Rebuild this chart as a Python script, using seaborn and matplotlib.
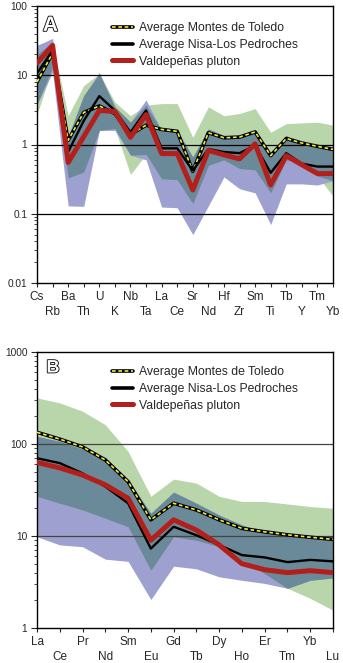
import numpy as np
import matplotlib
matplotlib.use("Agg")
import matplotlib.pyplot as plt
import matplotlib.patheffects as pe
from matplotlib.lines import Line2D
from matplotlib.ticker import LogLocator, NullFormatter
import seaborn as sns

# ---------------- data ----------------
elements_A = ["Cs", "Rb", "Ba", "Th", "U", "K", "Nb", "Ta", "La", "Ce",
              "Sr", "Nd", "Hf", "Zr", "Sm", "Ti", "Tb", "Y", "Tm", "Yb"]
montes_A = [8, 21, 1.15, 2.9, 3.6, 2.8, 1.4, 1.9, 1.65, 1.55,
            0.41, 1.48, 1.25, 1.28, 1.52, 0.69, 1.22, 1.05, 0.94, 0.85]
nisa_A = [10.6, 23, 0.78, 2.2, 5.0, 3.1, 1.5, 3.1, 0.88, 0.88,
          0.42, 0.86, 0.78, 0.75, 0.97, 0.39, 0.75, 0.53, 0.48, 0.48]
valdepenas_A = [15, 27, 0.55, 1.3, 3.1, 3.0, 1.27, 2.7, 0.74, 0.74,
                0.22, 0.82, 0.71, 0.62, 1.02, 0.26, 0.69, 0.51, 0.38, 0.38]
mdt_max_A = [20, 30, 2.6, 7.1, 10.5, 4.1, 2.6, 3.7, 3.9, 3.9,
             1.27, 3.5, 2.6, 2.8, 3.3, 1.5, 2.0, 2.05, 2.1, 1.9]
mdt_min_A = [2.7, 13, 0.33, 0.4, 1.6, 1.7, 0.37, 0.72, 0.32, 0.31,
             0.14, 0.5, 0.6, 0.45, 0.43, 0.2, 0.6, 0.53, 0.35, 0.18]
nlp_max_A = [27, 34, 1.3, 5.1, 11, 3.5, 2.1, 4.4, 1.6, 1.6,
             0.66, 1.68, 1.35, 1.35, 1.6, 0.66, 1.35, 0.97, 0.92, 0.84]
nlp_min_A = [3.8, 11, 0.13, 0.128, 1.6, 1.6, 0.7, 0.6, 0.125, 0.122,
             0.05, 0.13, 0.34, 0.23, 0.2, 0.07, 0.27, 0.27, 0.26, 0.3]

elements_B = ["La", "Ce", "Pr", "Nd", "Sm", "Eu", "Gd", "Tb", "Dy", "Ho",
              "Er", "Tm", "Yb", "Lu"]
montes_B = [134, 113, 93, 67, 39, 15, 22.7, 19.2, 15, 12.1, 11.1, 10.3, 9.7, 9.2]
nisa_B = [70, 62, 48, 34.5, 22.7, 7.3, 12.6, 10.2, 8.0, 6.2, 5.85, 5.2, 5.5, 5.3]
valdepenas_B = [63, 55, 46, 36, 25.7, 9.0, 15, 11.6, 8.0, 5.0, 4.3, 4.0, 4.2, 4.0]
mdt_max_B = [317, 280, 227, 162, 83, 27, 41.5, 37.6, 27, 23.7, 23.7, 22.3, 20.9, 20]
mdt_min_B = [27, 22.7, 19.2, 15.6, 12.6, 4.25, 9.8, 9.0, 7.65, 5.5, 3.9, 2.7, 2.1, 1.56]
nlp_max_B = [121, 107, 88, 72, 41, 17.7, 30, 22.7, 16.9, 13.2, 11, 10, 9.5, 9.0]
nlp_min_B = [9.8, 8.0, 7.65, 5.6, 5.3, 2.04, 4.7, 4.4, 3.6, 3.3, 3.05, 2.7, 3.3, 3.5]

labels = ["Average Montes de Toledo", "Average Nisa-Los Pedroches", "Valdepeñas pluton"]

# ---------------- style ----------------
sns.set_style("ticks")
plt.rcParams["font.family"] = ["Liberation Sans", "DejaVu Sans"]

GREEN = "#b9d5aa"
PURPLE = "#9ea1cf"
SLATE = "#6b8a99"
RED = "#b3201c"
YELLOW = "#f2ea3a"

fig = plt.figure(figsize=(3.43, 6.63), dpi=100)
axA = fig.add_axes([37 / 343, 1 - 283 / 663, 296 / 343, 277 / 663])
axB = fig.add_axes([37 / 343, 1 - 628 / 663, 296 / 343, 276 / 663])


def draw_panel(ax, elements, montes, nisa, vald, gmax, gmin, pmax, pmin,
               ylim, decades, ticklabels, letter, grid_color, letter_pos,
               legend_y):
    x = np.arange(len(elements))
    gmax, gmin, pmax, pmin = map(np.asarray, (gmax, gmin, pmax, pmin))
    ax.set_yscale("log")
    # ranges
    ax.fill_between(x, gmin, gmax, color=GREEN, lw=0, zorder=1)
    ax.fill_between(x, pmin, pmax, color=PURPLE, lw=0, zorder=1.1)
    lo = np.maximum(gmin, pmin)
    hi = np.minimum(gmax, pmax)
    ax.fill_between(x, lo, hi, where=hi > lo, interpolate=True,
                    color=SLATE, lw=0, zorder=1.2)
    # decade lines
    for d in decades:
        ax.axhline(d, color=grid_color, lw=0.9, zorder=2)
    # averages
    sns.lineplot(x=x, y=montes, ax=ax, color="black", lw=2.6, zorder=3,
                 legend=False)
    sns.lineplot(x=x, y=montes, ax=ax, color=YELLOW, lw=1.2, zorder=3.1,
                 dashes=False, legend=False, linestyle=(0, (2.2, 1.6)))
    sns.lineplot(x=x, y=nisa, ax=ax, color="black", lw=1.7, zorder=3.2,
                 legend=False)
    sns.lineplot(x=x, y=vald, ax=ax, color=RED, lw=3.6, zorder=3.3,
                 legend=False)
    ax.set_xlim(0, len(elements) - 1)
    ax.set_ylim(*ylim)
    ax.set_yticks(ticklabels[0])
    ax.set_yticklabels(ticklabels[1], fontsize=7.3)
    ax.yaxis.set_minor_locator(LogLocator(base=10, subs=np.arange(2, 10)))
    ax.yaxis.set_minor_formatter(NullFormatter())
    ax.set_xticks(x)
    ax.set_xticklabels([e if i % 2 == 0 else "\n" + e
                        for i, e in enumerate(elements)], fontsize=8.5,
                       linespacing=1.35)
    ax.tick_params(axis="y", which="major", length=4, width=0.8, pad=3,
                   direction="out")
    ax.tick_params(axis="y", which="minor", length=2, width=0.6,
                   direction="out")
    ax.tick_params(axis="x", length=3, width=0.8, pad=3, direction="out")
    for s in ax.spines.values():
        s.set_visible(True)
        s.set_linewidth(1.0)
        s.set_color("black")
    ax.set_xlabel("")
    ax.set_ylabel("")
    ax.grid(False)
    # legend
    h_montes = (Line2D([], [], color="black", lw=2.6),
                Line2D([], [], color=YELLOW, lw=1.2, linestyle=(0, (2.2, 1.6))))
    h_nisa = Line2D([], [], color="black", lw=2.6)
    h_vald = Line2D([], [], color=RED, lw=3.6)
    ax.legend([h_montes, h_nisa, h_vald], labels, loc="upper left",
              bbox_to_anchor=(0.253, legend_y), frameon=False, fontsize=8.8,
              handlelength=1.7, handletextpad=0.5, labelspacing=0.38,
              borderaxespad=0.0, borderpad=0.0)
    t = ax.text(letter_pos[0], letter_pos[1], letter, transform=ax.transAxes,
                ha="left", va="center", fontsize=letter_pos[2], color="white",
                fontweight="bold", zorder=5)
    t.set_path_effects([pe.Stroke(linewidth=1.2, foreground="black"),
                        pe.Normal()])


draw_panel(axA, elements_A, montes_A, nisa_A, valdepenas_A,
           mdt_max_A, mdt_min_A, nlp_max_A, nlp_min_A,
           (0.01, 100), [0.1, 1, 10],
           ([0.01, 0.1, 1, 10, 100], ["0.01", "0.1", "1", "10", "100"]),
           "A", "black", (0.02, 0.93, 15), 0.941)
draw_panel(axB, elements_B, montes_B, nisa_B, valdepenas_B,
           mdt_max_B, mdt_min_B, nlp_max_B, nlp_min_B,
           (1, 1000), [10, 100],
           ([1, 10, 100, 1000], ["1", "10", "100", "1000"]),
           "B", "#444444", (0.032, 0.942, 13), 0.948)

fig.savefig("out.png", dpi=100)
